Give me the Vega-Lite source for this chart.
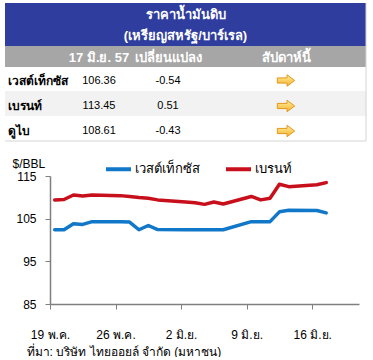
{
  "$schema": "https://vega.github.io/schema/vega-lite/v6.json",
  "background": "white",
  "padding": {"left": 4, "top": 2, "right": 0, "bottom": 0},
  "spacing": 12,
  "resolve": {"scale": {"color": "independent"}, "legend": {"color": "independent"}},
  "config": {
    "view": {"stroke": null},
    "font": "Tahoma, 'Liberation Sans', Arial, sans-serif"
  },
  "datasets": {
    "bands": [
      {"top": -0.5, "bottom": 1.5, "left": -0.5, "right": 4, "kind": "title"},
      {"top": 1.5, "bottom": 2.5, "left": -0.5, "right": 4, "kind": "head"},
      {"top": 3.5, "bottom": 4.5, "left": -0.5, "right": 4, "kind": "alt"}
    ],
    "frame": [
      {"x1": -0.5, "x2": 4, "y1": 5.5, "y2": 5.5},
      {"x1": 4, "x2": 4, "y1": -0.5, "y2": 5.5}
    ],
    "cells": [
      {"row": 0, "col": 2.5, "kind": "title", "text": "ราคาน้ำมันดิบ"},
      {"row": 1, "col": 2.5, "kind": "title", "text": "(เหรียญสหรัฐ/บาร์เรล)"},
      {"row": 2, "col": 1, "kind": "title", "text": "17 มิ.ย. 57"},
      {"row": 2, "col": 2, "kind": "title", "text": "เปลี่ยนแปลง"},
      {"row": 2, "col": 3, "kind": "title", "text": "สัปดาห์นี้"},
      {"row": 3, "col": 0, "kind": "name", "text": "เวสต์เท็กซัส"},
      {"row": 3, "col": 1, "kind": "num", "text": "106.36"},
      {"row": 3, "col": 2, "kind": "num", "text": "-0.54"},
      {"row": 4, "col": 0, "kind": "name", "text": "เบรนท์"},
      {"row": 4, "col": 1, "kind": "num", "text": "113.45"},
      {"row": 4, "col": 2, "kind": "num", "text": "0.51"},
      {"row": 5, "col": 0, "kind": "name", "text": "ดูไบ"},
      {"row": 5, "col": 1, "kind": "num", "text": "108.61"},
      {"row": 5, "col": 2, "kind": "num", "text": "-0.43"}
    ],
    "trend": [
      {"row": 3, "col": 3, "trend": "ทรงตัว"},
      {"row": 4, "col": 3, "trend": "ทรงตัว"},
      {"row": 5, "col": 3, "trend": "ทรงตัว"}
    ],
    "prices": [
      {"date": "2014-05-19", "oil": "เวสต์เท็กซัส", "price": 102.4},
      {"date": "2014-05-20", "oil": "เวสต์เท็กซัส", "price": 102.4},
      {"date": "2014-05-21", "oil": "เวสต์เท็กซัส", "price": 103.8},
      {"date": "2014-05-22", "oil": "เวสต์เท็กซัส", "price": 103.65},
      {"date": "2014-05-23", "oil": "เวสต์เท็กซัส", "price": 104.3},
      {"date": "2014-05-26", "oil": "เวสต์เท็กซัส", "price": 104.25},
      {"date": "2014-05-27", "oil": "เวสต์เท็กซัส", "price": 104.2},
      {"date": "2014-05-28", "oil": "เวสต์เท็กซัส", "price": 102.4},
      {"date": "2014-05-29", "oil": "เวสต์เท็กซัส", "price": 103.4},
      {"date": "2014-05-30", "oil": "เวสต์เท็กซัส", "price": 102.45},
      {"date": "2014-06-02", "oil": "เวสต์เท็กซัส", "price": 102.4},
      {"date": "2014-06-03", "oil": "เวสต์เท็กซัส", "price": 102.4},
      {"date": "2014-06-04", "oil": "เวสต์เท็กซัส", "price": 102.4},
      {"date": "2014-06-05", "oil": "เวสต์เท็กซัส", "price": 102.4},
      {"date": "2014-06-06", "oil": "เวสต์เท็กซัส", "price": 102.4},
      {"date": "2014-06-09", "oil": "เวสต์เท็กซัส", "price": 104.3},
      {"date": "2014-06-10", "oil": "เวสต์เท็กซัส", "price": 104.3},
      {"date": "2014-06-11", "oil": "เวสต์เท็กซัส", "price": 104.3},
      {"date": "2014-06-12", "oil": "เวสต์เท็กซัส", "price": 106.6},
      {"date": "2014-06-13", "oil": "เวสต์เท็กซัส", "price": 106.95},
      {"date": "2014-06-16", "oil": "เวสต์เท็กซัส", "price": 106.9},
      {"date": "2014-06-17", "oil": "เวสต์เท็กซัส", "price": 106.36},
      {"date": "2014-05-19", "oil": "เบรนท์", "price": 109.4},
      {"date": "2014-05-20", "oil": "เบรนท์", "price": 109.5},
      {"date": "2014-05-21", "oil": "เบรนท์", "price": 110.55},
      {"date": "2014-05-22", "oil": "เบรนท์", "price": 110.3},
      {"date": "2014-05-23", "oil": "เบรนท์", "price": 110.55},
      {"date": "2014-05-26", "oil": "เบรนท์", "price": 110.4},
      {"date": "2014-05-27", "oil": "เบรนท์", "price": 110.2},
      {"date": "2014-05-28", "oil": "เบรนท์", "price": 109.95},
      {"date": "2014-05-29", "oil": "เบรนท์", "price": 109.8},
      {"date": "2014-05-30", "oil": "เบรนท์", "price": 109.4},
      {"date": "2014-06-02", "oil": "เบรนท์", "price": 108.9},
      {"date": "2014-06-03", "oil": "เบรนท์", "price": 108.75},
      {"date": "2014-06-04", "oil": "เบรนท์", "price": 108.35},
      {"date": "2014-06-05", "oil": "เบรนท์", "price": 108.9},
      {"date": "2014-06-06", "oil": "เบรนท์", "price": 108.45},
      {"date": "2014-06-09", "oil": "เบรนท์", "price": 110.2},
      {"date": "2014-06-10", "oil": "เบรนท์", "price": 109.4},
      {"date": "2014-06-11", "oil": "เบรนท์", "price": 109.8},
      {"date": "2014-06-12", "oil": "เบรนท์", "price": 113.05},
      {"date": "2014-06-13", "oil": "เบรนท์", "price": 112.5},
      {"date": "2014-06-16", "oil": "เบรนท์", "price": 112.94},
      {"date": "2014-06-17", "oil": "เบรนท์", "price": 113.45}
    ]
  },
  "vconcat": [
    {
      "width": 309,
      "height": 138,
      "layer": [
        {
          "data": {"name": "bands"},
          "mark": {"type": "rect"},
          "encoding": {
            "x": {"field": "left", "type": "quantitative", "axis": null,
                  "scale": {"domain": [-0.5, 0, 1, 2, 2.5, 3, 4], "range": [-45, -42, 49, 118, 135.5, 236, 316], "nice": false, "zero": false}},
            "x2": {"field": "right"},
            "y": {"field": "top", "type": "quantitative", "axis": null,
                  "scale": {"domain": [-0.5, 0, 0.5, 1, 1.5, 2, 2.5, 3, 3.5, 4, 4.5, 5, 5.5],
                            "range": [0, 11.5, 21.5, 33, 43, 54.5, 64, 77.5, 88, 103, 113, 128, 138], "nice": false, "zero": false}},
            "y2": {"field": "bottom"},
            "color": {"field": "kind", "type": "nominal", "legend": null,
                      "scale": {"domain": ["title", "head", "alt"], "range": ["#2e3d9e", "#a6a6a6", "#f2f2f2"]}}
          }
        },
        {
          "data": {"name": "frame"},
          "mark": {"type": "rule", "color": "#d4d4d4", "strokeWidth": 1},
          "encoding": {
            "x": {"field": "x1", "type": "quantitative", "axis": null},
            "x2": {"field": "x2"},
            "y": {"field": "y1", "type": "quantitative", "axis": null},
            "y2": {"field": "y2"}
          }
        },
        {
          "data": {"name": "cells"},
          "transform": [{"filter": "datum.kind == 'title'"}],
          "mark": {"type": "text", "color": "white", "fontWeight": "bold", "fontSize": 13, "align": "center", "baseline": "middle"},
          "encoding": {
            "x": {"field": "col", "type": "quantitative", "axis": null},
            "y": {"field": "row", "type": "quantitative", "axis": null},
            "text": {"field": "text"}
          }
        },
        {
          "data": {"name": "cells"},
          "transform": [{"filter": "datum.kind == 'name'"}],
          "mark": {"type": "text", "color": "black", "fontWeight": "bold", "fontSize": 12, "align": "left", "baseline": "middle"},
          "encoding": {
            "x": {"field": "col", "type": "quantitative", "axis": null},
            "y": {"field": "row", "type": "quantitative", "axis": null},
            "text": {"field": "text"}
          }
        },
        {
          "data": {"name": "cells"},
          "transform": [{"filter": "datum.kind == 'num'"}],
          "mark": {"type": "text", "color": "black", "fontSize": 11, "align": "center", "baseline": "middle"},
          "encoding": {
            "x": {"field": "col", "type": "quantitative", "axis": null},
            "y": {"field": "row", "type": "quantitative", "axis": null},
            "text": {"field": "text"}
          }
        },
        {
          "data": {"name": "trend"},
          "mark": {
            "type": "point",
            "shape": "M-1,-0.3L0.12,-0.3L0.12,-0.66L1,0L0.12,0.66L0.12,0.3L-1,0.3Z",
            "size": 300,
            "filled": true,
            "opacity": 1,
            "fill": {"gradient": "linear", "x1": 0, "y1": 0, "x2": 0, "y2": 1,
                     "stops": [{"offset": 0, "color": "#fff1a0"}, {"offset": 1, "color": "#f6b02a"}]},
            "stroke": "#e3961a",
            "strokeWidth": 1
          },
          "encoding": {
            "x": {"field": "col", "type": "quantitative", "axis": null},
            "y": {"field": "row", "type": "quantitative", "axis": null},
            "tooltip": {"field": "trend"}
          }
        }
      ]
    },
    {
      "width": 309,
      "height": 128,
      "data": {"name": "prices"},
      "mark": {"type": "line", "strokeWidth": 3.5, "strokeCap": "round", "strokeJoin": "round"},
      "encoding": {
        "x": {
          "field": "date", "type": "temporal", "timeUnit": "utcyearmonthdate", "bandPosition": 0.5,
          "scale": {"type": "utc", "domain": [{"year": 2014, "month": 5, "date": 19, "utc": true}, {"year": 2014, "month": 6, "date": 21, "utc": true}]},
          "axis": {
            "values": [
              {"year": 2014, "month": 5, "date": 19, "utc": true},
              {"year": 2014, "month": 5, "date": 26, "utc": true},
              {"year": 2014, "month": 6, "date": 2, "utc": true},
              {"year": 2014, "month": 6, "date": 9, "utc": true},
              {"year": 2014, "month": 6, "date": 16, "utc": true}
            ],
            "labelExpr": "utcdate(datum.value) + (utcmonth(datum.value) == 4 ? ' พ.ค.' : ' มิ.ย.')",
            "labelFontSize": 12, "labelColor": "black", "labelPadding": 20, "labelFlush": false, "labelOverlap": false,
            "tickSize": 5, "tickColor": "#7f7f7f", "domainColor": "#7f7f7f", "domainWidth": 1.5, "grid": false,
            "title": "ที่มา: บริษัท ไทยออยล์ จำกัด (มหาชน)",
            "titleX": -24, "titleY": 47, "titleAlign": "left", "titleBaseline": "middle",
            "titleFontWeight": "normal", "titleFontSize": 12, "titleColor": "black"
          }
        },
        "y": {
          "field": "price", "type": "quantitative",
          "scale": {"domain": [85, 115], "nice": false, "zero": false},
          "axis": {
            "values": [85, 95, 105, 115],
            "labelFontSize": 12, "labelColor": "black", "labelPadding": 9,
            "tickSize": 5, "tickColor": "#7f7f7f", "domainColor": "#7f7f7f", "domainWidth": 1.5, "grid": false,
            "title": "$/BBL", "titleAngle": 0, "titleX": -38, "titleY": -9, "titleAlign": "left", "titleBaseline": "alphabetic",
            "titleFontWeight": "normal", "titleFontSize": 12, "titleColor": "black"
          }
        },
        "color": {
          "field": "oil", "type": "nominal",
          "scale": {"domain": ["เวสต์เท็กซัส", "เบรนท์"], "range": ["#1177c8", "#c8101c"]},
          "legend": {
            "orient": "none", "direction": "horizontal", "legendX": 54, "legendY": -21.5, "title": null,
            "symbolType": "stroke", "symbolSize": 625, "symbolStrokeWidth": 4,
            "labelFontSize": 13, "labelColor": "black", "labelOffset": 2, "columnPadding": 18
          }
        }
      }
    }
  ]
}
